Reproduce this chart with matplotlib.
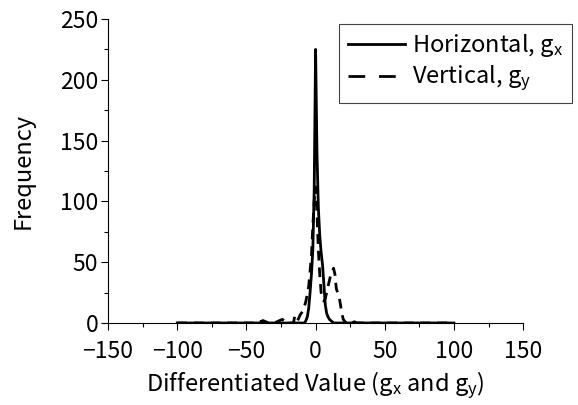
import matplotlib.pyplot as plt
from matplotlib.lines import Line2D
from matplotlib.ticker import MultipleLocator

plt.rcParams['font.family'] = ['Noto Sans CJK JP', 'DejaVu Sans']
plt.rcParams['mathtext.fontset'] = 'custom'
plt.rcParams['mathtext.rm'] = 'Noto Sans CJK JP'
plt.rcParams['mathtext.it'] = 'Noto Sans CJK JP'

# horizontal gradient histogram (solid)
hx = [-100, -40, -30, -20, -12, -10, -8, -7, -6, -5, -4, -3, -2, -1, 0,
      1, 2, 3, 4, 5, 6, 7, 8, 9, 10, 11, 12, 13, 26, 28, 30, 40, 100]
hy = [0, 0, 0, 0, 0, 0, 0, 2, 5, 12, 25, 40, 60, 110, 225,
      140, 95, 72, 58, 48, 32, 15, 8, 5, 3, 2, 1, 0, 0, 1, 0, 0, 0]

# vertical gradient histogram (dashed)
vx = [-100, -44, -42, -40, -38, -36, -34, -30, -28, -26, -24, -22, -20, -16,
      -15, -13, -11, -9, -7, -5, -3, -2, -1, 0, 1, 2, 3, 4, 5, 6, 7, 9, 11,
      13, 14, 15, 16, 17, 19, 20, 22, 100]
vy = [0, 0, 2, 1, 2, 1, 0, 0, 1, 2, 3, 1, 0, 0,
      6, 2, 7, 10, 18, 30, 55, 80, 100, 112, 90, 60, 40, 25, 20, 18, 20, 30, 40,
      45, 40, 28, 25, 22, 8, 3, 0, 0]

xticks = [-150, -100, -50, 0, 50, 100, 150]
xticklabels = ['\u2212150', '\u2212100', '\u221250', '0', '50', '100', '150']

fig = plt.figure(figsize=(5.78, 4.05), dpi=100)
ax = fig.add_axes([0.187, 0.2025, 0.718, 0.7505])

ax.plot(hx, hy, color='black', lw=2)
ax.plot(vx, vy, color='black', lw=2, linestyle=(0, (3.5, 2.5)))

ax.set_xlim(-150, 150)
ax.set_ylim(0, 250)
ax.set_xticks(xticks)
ax.set_xticklabels(xticklabels)
ax.xaxis.set_minor_locator(MultipleLocator(25))
ax.yaxis.set_major_locator(MultipleLocator(50))
ax.yaxis.set_minor_locator(MultipleLocator(25))
ax.spines['top'].set_visible(False)
ax.spines['right'].set_visible(False)
ax.tick_params(which='major', direction='out', length=5, width=0.8, labelsize=16.5)
ax.tick_params(axis='y', which='major', pad=2)
ax.tick_params(axis='x', which='major', pad=7)
ax.tick_params(which='minor', direction='out', length=3, width=0.8)

ax.set_xlabel(r'Differentiated Value ($\mathrm{g_x}$ and $\mathrm{g_y}$)', fontsize=17, labelpad=5)
ax.set_ylabel('Frequency', fontsize=17, labelpad=18)

handles = [Line2D([], [], color='black', lw=2),
           Line2D([], [], color='black', lw=2, linestyle=(0, (6, 5)))]
labels = [r'Horizontal, $\mathrm{g_x}$', r'Vertical, $\mathrm{g_y}$']
leg = ax.legend(handles, labels, loc='upper right', bbox_to_anchor=(1.118, 0.984),
                borderaxespad=0, fontsize=17, handlelength=2.45, handletextpad=0.3,
                labelspacing=0.2, borderpad=0.35, fancybox=False, framealpha=1,
                edgecolor='#444444')
leg.get_frame().set_linewidth(0.8)

fig.savefig('out.png', dpi=100)
